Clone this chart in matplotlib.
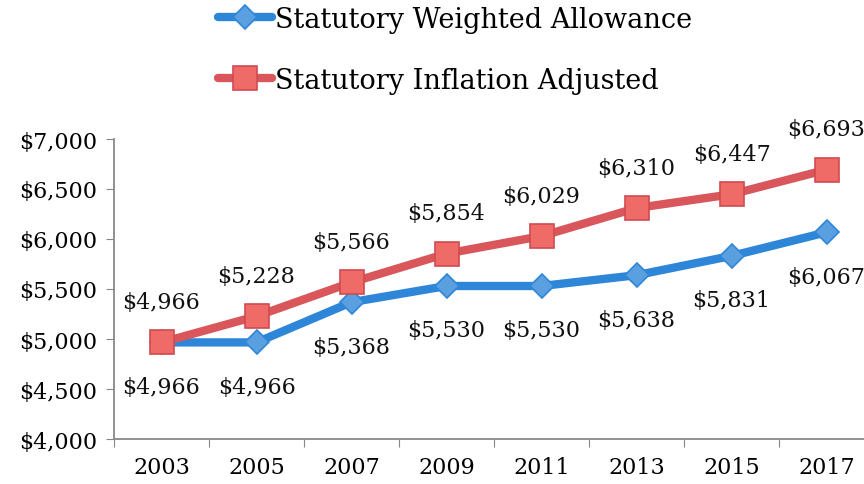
import matplotlib
matplotlib.use("Agg")
import matplotlib.pyplot as plt
import numpy as np

# chart data
years = ["2003", "2005", "2007", "2009", "2011", "2013", "2015", "2017"]
weighted = [4966, 4966, 5368, 5530, 5530, 5638, 5831, 6067]
inflation = [4966, 5228, 5566, 5854, 6029, 6310, 6447, 6693]
series_names = ["Statutory Weighted Allowance", "Statutory Inflation Adjusted"]

BLUE_LINE = "#2E86D8"
BLUE_MARK = "#5AA0E0"
RED_LINE = "#D9565B"
RED_MARK = "#EE6B68"

plt.rcParams['font.family'] = ['DejaVu Serif']
FS = 16

fig = plt.figure(figsize=(8.64, 4.85), dpi=100)
ax = fig.add_axes([114 / 864, 45 / 485, 760 / 864, 300 / 485])

x = np.arange(len(years))
l1, = ax.plot(x, weighted, color=BLUE_LINE, lw=6, marker="D", ms=12,
              mfc=BLUE_MARK, mec=BLUE_LINE, mew=1.2, solid_capstyle="round", zorder=3)
l2, = ax.plot(x, inflation, color=RED_LINE, lw=6, marker="s", ms=17,
              mfc=RED_MARK, mec="#D04A50", mew=1.2, solid_capstyle="round", zorder=4)

for xi, v in zip(x, weighted):
    ax.annotate(f"${v:,}", (xi, v), xytext=(0, -32), textcoords="offset points",
                ha="center", va="center", fontsize=FS, color="#111111")
for xi, v in zip(x, inflation):
    ax.annotate(f"${v:,}", (xi, v), xytext=(0, 29), textcoords="offset points",
                ha="center", va="center", fontsize=FS, color="#111111")

ax.set_xlim(-0.5, len(years) - 0.5)
ax.set_ylim(4000, 7000)
ax.set_yticks(np.arange(4000, 7001, 500))
ax.set_yticklabels([f"${t:,}" for t in range(4000, 7001, 500)], fontsize=FS)

# category axis: ticks sit between the categories
ax.set_xticks(np.arange(-0.5, len(years), 1.0))
ax.set_xticklabels([])
ax.set_xticks(x, minor=True)
ax.set_xticklabels(years, minor=True, fontsize=FS)
ax.tick_params(axis="x", which="minor", length=0, pad=12)
ax.tick_params(axis="x", which="major", length=6, color="#888888", direction="out")
ax.tick_params(axis="y", length=6, color="#888888", direction="out", pad=6)

for s in ["top", "right"]:
    ax.spines[s].set_visible(False)
for s in ["left", "bottom"]:
    ax.spines[s].set_color("#888888")
    ax.spines[s].set_linewidth(1.3)

fig.legend([l1, l2], series_names, loc="upper left", bbox_to_anchor=(207 / 864, 1.008),
           frameon=False, fontsize=19.5, handlelength=2.0, handletextpad=0.1,
           labelspacing=1.25, borderaxespad=0.0)

fig.savefig("out.png", dpi=100)
